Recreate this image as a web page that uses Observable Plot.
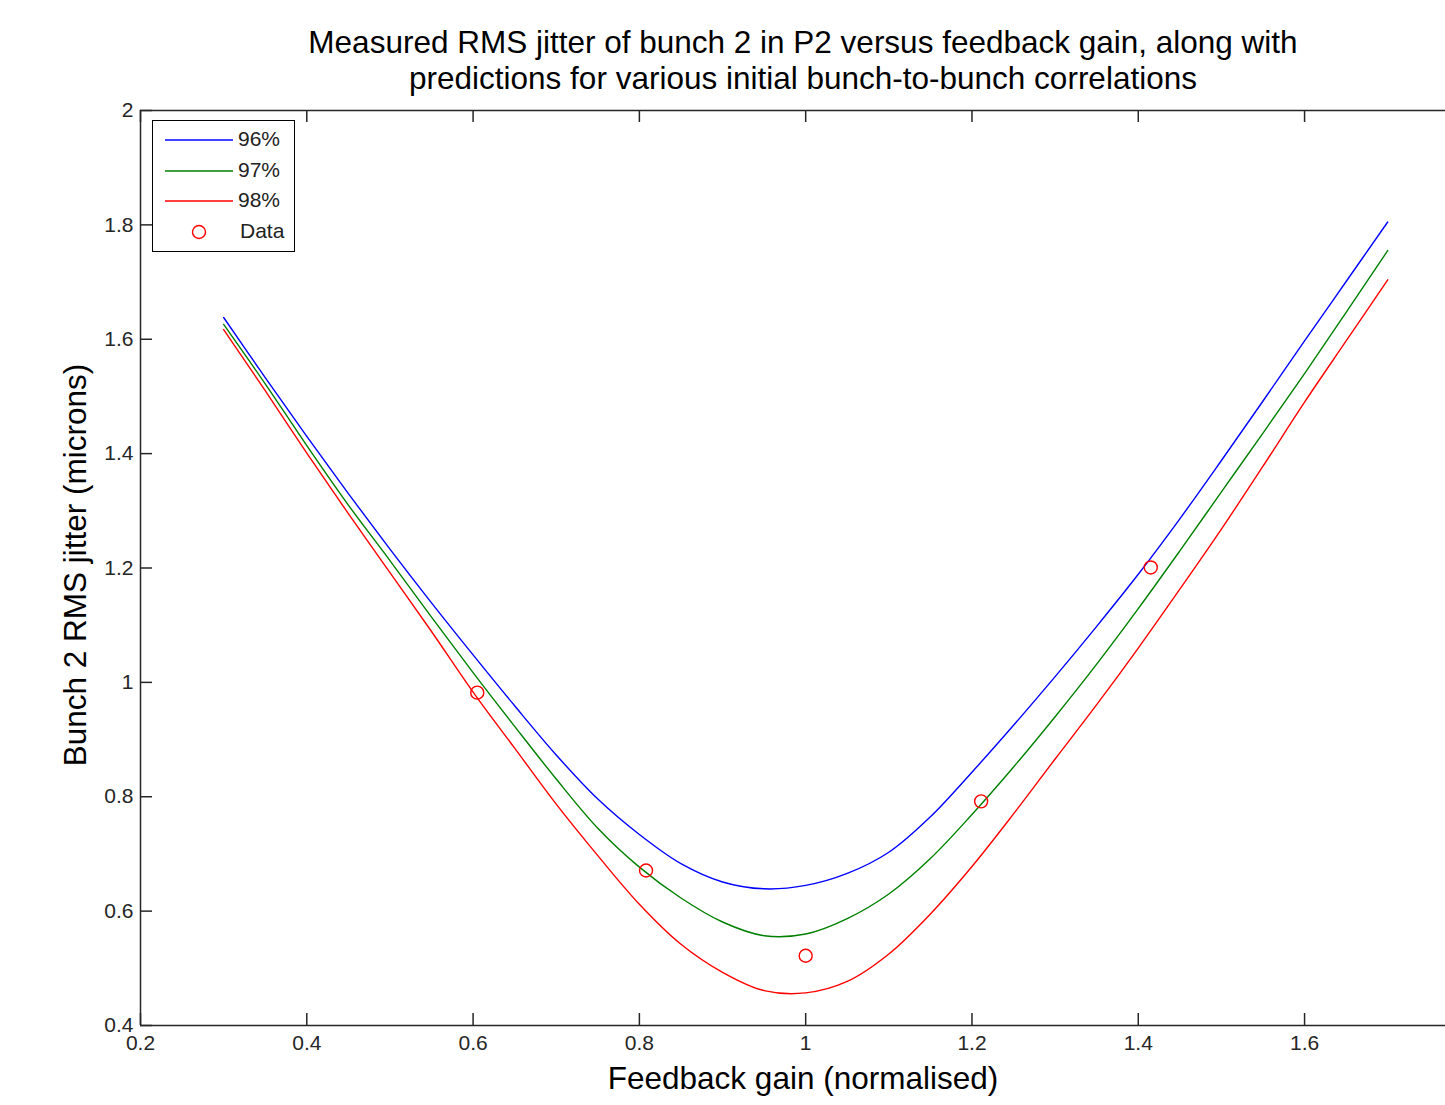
<!DOCTYPE html>
<html>
<head>
<meta charset="utf-8">
<script src="https://cdn.jsdelivr.net/npm/d3@7"></script>
<script src="https://cdn.jsdelivr.net/npm/@observablehq/plot@0.6"></script>
<style>
  html, body { margin: 0; padding: 0; background: #fff; overflow: hidden; }
  #wrap { position: relative; width: 1445px; height: 1105px; font-family: "Liberation Sans", Arial, sans-serif; }
  #title { position: relative; height: 100px; }
  #title div { position: absolute; left: 803px; top: 24px; transform: translateX(-50%); white-space: nowrap;
    text-align: center; font-size: 31.5px; line-height: 36px; color: #000; }
  #legend { position: absolute; left: 152px; top: 120px; width: 141px; height: 130px; border: 1.5px solid #000; background: #fff; }
  .row { position: absolute; left: 0; height: 20px; width: 141px; }
  .row svg { position: absolute; left: 12px; top: 0; }
  .row span { position: absolute; left: 85px; top: -1px; font-size: 21px; color: #222; line-height: 20px; }
</style>
</head>
<body>
<div id="wrap">
  <div id="title"><div>Measured RMS jitter of bunch 2 in P2 versus feedback gain, along with<br>predictions for various initial bunch-to-bunch correlations</div></div>
  <div id="chart"></div>
  <div id="legend"></div>
</div>
<script>
// ---- data ----
const gain = [0.3, 0.35, 0.4, 0.45, 0.5, 0.55, 0.6, 0.65, 0.7, 0.75, 0.8, 0.85, 0.9, 0.95, 1.0,
              1.05, 1.1, 1.15, 1.2, 1.25, 1.3, 1.35, 1.4, 1.45, 1.5, 1.55, 1.6, 1.65, 1.7];
const jitter96 = [1.638, 1.533, 1.430, 1.330, 1.233, 1.139, 1.048, 0.959, 0.873, 0.796, 0.734, 0.683, 0.651, 0.639, 0.645,
                  0.666, 0.703, 0.765, 0.843, 0.925, 1.010, 1.098, 1.189, 1.286, 1.388, 1.492, 1.597, 1.701, 1.805];
const jitter97 = [1.626, 1.522, 1.414, 1.310, 1.213, 1.114, 1.017, 0.923, 0.831, 0.745, 0.677, 0.623, 0.581, 0.557, 0.560,
                  0.587, 0.630, 0.692, 0.769, 0.852, 0.940, 1.032, 1.129, 1.230, 1.333, 1.436, 1.540, 1.647, 1.755];
const jitter98 = [1.617, 1.510, 1.401, 1.295, 1.192, 1.089, 0.983, 0.885, 0.787, 0.697, 0.612, 0.542, 0.493, 0.461, 0.457,
                  0.477, 0.525, 0.595, 0.678, 0.770, 0.866, 0.961, 1.060, 1.163, 1.268, 1.378, 1.490, 1.597, 1.704];
const dataGain = [0.605, 0.808, 1.0, 1.211, 1.415];
const dataJitter = [0.982, 0.671, 0.522, 0.792, 1.201];
const seriesNames = ["96%", "97%", "98%"];
const seriesColors = ["#0000ff", "#008000", "#ff0000"];
const xTicks = [0.2, 0.4, 0.6, 0.8, 1, 1.2, 1.4, 1.6];
const yTicks = [0.4, 0.6, 0.8, 1, 1.2, 1.4, 1.6, 1.8, 2];
const titleX = "Feedback gain (normalised)";
const titleY = "Bunch 2 RMS jitter (microns)";

const curves = [jitter96, jitter97, jitter98].flatMap((arr, i) =>
  gain.map((g, j) => ({gain: g, jitter: arr[j], series: seriesNames[i]})));
const points = dataGain.map((g, i) => ({gain: g, jitter: dataJitter[i]}));

const axisColor = "#262626";
const tickFont = "Liberation Sans, Arial, sans-serif";

const chart = Plot.plot({
  width: 1445,
  height: 1005,
  marginLeft: 140,
  marginRight: 0,
  marginTop: 10,
  marginBottom: 80,
  style: {fontFamily: tickFont, background: "#fff", overflow: "visible"},
  x: {domain: [0.2, 1.7695]},
  y: {domain: [0.4, 2]},
  color: {domain: seriesNames, range: seriesColors},
  marks: [
    Plot.line(curves, {x: "gain", y: "jitter", z: "series", stroke: "series", strokeWidth: 1.4, curve: "catmull-rom"}),
    Plot.dot(points, {x: "gain", y: "jitter", r: 6.5, stroke: "#ff0000", strokeWidth: 1.4, fill: "none"}),
    Plot.ruleY([0.4, 2], {stroke: axisColor, strokeWidth: 1.5}),
    Plot.ruleX([0.2], {stroke: axisColor, strokeWidth: 1.5}),
    Plot.tickX(xTicks, {x: d => d, stroke: axisColor, strokeWidth: 1.5, insetTop: 903}),
    Plot.tickX(xTicks, {x: d => d, stroke: axisColor, strokeWidth: 1.5, insetBottom: 903}),
    Plot.tickY(yTicks, {y: d => d, stroke: axisColor, strokeWidth: 1.5, insetRight: 1293}),
    Plot.axisX(xTicks, {tickSize: 0, tickPadding: 10, fontSize: 21, fill: axisColor, tickFormat: d => String(d), label: null}),
    Plot.axisY(yTicks, {tickSize: 0, tickPadding: 7, fontSize: 21, fill: axisColor, tickFormat: d => String(d), label: null}),
    Plot.text([titleX], {frameAnchor: "bottom", dx: 10, dy: 53, text: d => d, fontSize: 31.5, fill: "#000", lineAnchor: "middle", textAnchor: "middle"}),
    Plot.text([titleY], {frameAnchor: "left", dx: -65, dy: -3, rotate: -90, text: d => d, fontSize: 31.5, fill: "#000", lineAnchor: "middle", textAnchor: "middle"})
  ]
});
document.getElementById("chart").appendChild(chart);

// legend
const legend = document.getElementById("legend");
const rowsY = [9, 40, 70, 101];
seriesNames.forEach((name, i) => {
  const row = document.createElement("div");
  row.className = "row";
  row.style.top = rowsY[i] + "px";
  row.innerHTML = `<svg width="68" height="20"><line x1="0" x2="68" y1="10" y2="10" stroke="${seriesColors[i]}" stroke-width="1.4"/></svg><span>${name}</span>`;
  legend.appendChild(row);
});
const drow = document.createElement("div");
drow.className = "row";
drow.style.top = rowsY[3] + "px";
drow.innerHTML = `<svg width="68" height="20"><circle cx="34" cy="10" r="6.5" stroke="#ff0000" stroke-width="1.4" fill="none"/></svg><span style="left:87px">Data</span>`;
legend.appendChild(drow);
</script>
</body>
</html>
